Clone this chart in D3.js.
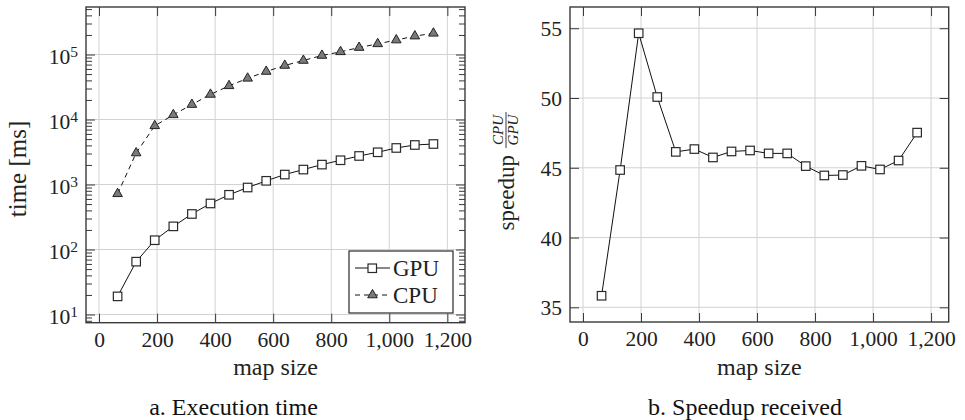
<!DOCTYPE html>
<html>
<head>
<meta charset="utf-8">
<script src="https://cdn.jsdelivr.net/npm/d3@7"></script>
<style>
  body { margin: 0; background: #fff; }
  svg { display: block; }
  svg text { font-family: "Liberation Serif", "Times New Roman", Tinos, "DejaVu Serif", serif; }
  .domain { display: none; }
</style>
</head>
<body>
<svg width="965" height="420"></svg>
<script>
// map sizes on the x axis
const mapSizes = [64, 128, 192, 256, 320, 384, 448, 512, 576, 640, 704, 768, 832, 896, 960, 1024, 1088, 1152];
// execution time in ms
const gpuTime = [19, 65, 139, 227, 352, 511, 695, 899, 1140, 1423, 1698, 2025, 2362, 2749, 3133, 3650, 4055, 4200];
const cpuTime = [720, 3050, 8000, 11800, 17000, 24300, 33000, 43000, 54800, 67800, 80900, 96600, 110000, 128000, 146000, 167000, 192000, 212000];
// speedup CPU / GPU
const speedup = [35.83, 44.84, 54.64, 50.07, 46.14, 46.34, 45.74, 46.17, 46.24, 46.03, 46.03, 45.12, 44.45, 44.48, 45.14, 44.88, 45.52, 47.52];

const xTicks = [0, 200, 400, 600, 800, 1000, 1200];
const logTicks = [10, 100, 1000, 10000, 100000];
const speedTicks = [35, 40, 45, 50, 55];
const captions = ['a. Execution time', 'b. Speedup received'];

const FRAME = '#3a3a3a';
const GRID = '#d2d2d2';
const TICK_FONT = 21.5;

const svg = d3.select('svg');

// pgfplots style enlarge limits (10% of data range on each side)
function enlarge(lo, hi) {
    const pad = (hi - lo) * 0.1;
    return [lo - pad, hi + pad];
}

function drawFrame(g, x, y, box, yTickValues, minorTicks, yFormat) {
    const w = box.right - box.left;
    const h = box.bottom - box.top;

    // grid
    g.append('g').selectAll('line.vg')
        .data(xTicks)
        .enter()
        .append('line')
        .attr('x1', d => x(d)).attr('x2', d => x(d))
        .attr('y1', box.top).attr('y2', box.bottom)
        .attr('stroke', GRID).attr('stroke-width', 1);
    g.append('g').selectAll('line.hg')
        .data(yTickValues)
        .enter()
        .append('line')
        .attr('x1', box.left).attr('x2', box.right)
        .attr('y1', d => y(d)).attr('y2', d => y(d))
        .attr('stroke', GRID).attr('stroke-width', 1);

    // bottom axis with labels
    const bottom = g.append('g')
        .attr('transform', `translate(0, ${box.bottom})`)
        .call(d3.axisBottom(x).tickValues(xTicks).tickSize(-9).tickPadding(9).tickFormat(d3.format(',')));
    g.append('g')
        .attr('transform', `translate(0, ${box.top})`)
        .call(d3.axisTop(x).tickValues(xTicks).tickSize(-9).tickFormat(''));

    const left = g.append('g')
        .attr('transform', `translate(${box.left}, 0)`)
        .call(d3.axisLeft(y).tickValues(yTickValues).tickSize(-9).tickPadding(8).tickFormat(yFormat));
    g.append('g')
        .attr('transform', `translate(${box.right}, 0)`)
        .call(d3.axisRight(y).tickValues(yTickValues).tickSize(-9).tickFormat(''));

    if (minorTicks) {
        g.append('g')
            .attr('transform', `translate(${box.left}, 0)`)
            .call(d3.axisLeft(y).tickValues(minorTicks).tickSize(-6).tickFormat(''));
        g.append('g')
            .attr('transform', `translate(${box.right}, 0)`)
            .call(d3.axisRight(y).tickValues(minorTicks).tickSize(-6).tickFormat(''));
    }

    g.selectAll('.tick line').attr('stroke', FRAME).attr('stroke-width', 1);
    g.selectAll('.tick text')
        .attr('fill', '#222')
        .attr('font-family', null)
        .attr('font-size', TICK_FONT);

    g.append('rect')
        .attr('x', box.left).attr('y', box.top)
        .attr('width', w).attr('height', h)
        .attr('fill', 'none')
        .attr('stroke', FRAME)
        .attr('stroke-width', 1.4);

    return { bottom, left };
}

function squares(g, data, x, y, size) {
    g.selectAll(null)
        .data(data)
        .enter()
        .append('rect')
        .attr('x', d => x(d[0]) - size / 2)
        .attr('y', d => y(d[1]) - size / 2)
        .attr('width', size).attr('height', size)
        .attr('fill', '#fff')
        .attr('stroke', '#2a2a2a')
        .attr('stroke-width', 1.2);
}

// ---------- left panel: execution time ----------
const boxA = { left: 86, right: 465, top: 7, bottom: 322.7 };
const xA = d3.scaleLinear()
    .domain(enlarge(d3.min(mapSizes), d3.max(mapSizes)))
    .range([boxA.left, boxA.right]);
const logExtent = enlarge(Math.log10(d3.min(gpuTime)), Math.log10(d3.max(cpuTime)));
const yA = d3.scaleLog()
    .domain([Math.pow(10, logExtent[0]), Math.pow(10, logExtent[1])])
    .range([boxA.bottom, boxA.top]);

const minorLog = [];
[1, 10, 100, 1000, 10000, 100000].forEach(p => {
    for (let m = 2; m <= 9; m++) {
        const v = m * p;
        if (v > yA.domain()[0] && v < yA.domain()[1]) minorLog.push(v);
    }
});

const gA = svg.append('g');
const axA = drawFrame(gA, xA, yA, boxA, logTicks, minorLog, () => '');
axA.left.selectAll('.tick text')
    .attr('dy', '0.42em')
    .each(function (d) {
        const t = d3.select(this);
        t.append('tspan').text('10');
        t.append('tspan')
            .attr('dy', '-0.48em')
            .attr('font-size', '0.72em')
            .text(Math.round(Math.log10(d)));
    });

const gpuPts = mapSizes.map((m, i) => [m, gpuTime[i]]);
const cpuPts = mapSizes.map((m, i) => [m, cpuTime[i]]);
const lineA = d3.line().x(d => xA(d[0])).y(d => yA(d[1]));

gA.append('path')
    .attr('d', lineA(cpuPts))
    .attr('fill', 'none')
    .attr('stroke', '#111')
    .attr('stroke-width', 1)
    .attr('stroke-dasharray', '5,4');
gA.append('path')
    .attr('d', lineA(gpuPts))
    .attr('fill', 'none')
    .attr('stroke', '#111')
    .attr('stroke-width', 1);

const tri = d3.symbol().type(d3.symbolTriangle).size(40);
gA.selectAll('.tri')
    .data(cpuPts)
    .enter()
    .append('path')
    .attr('d', tri)
    .attr('transform', d => `translate(${xA(d[0])}, ${yA(d[1])})`)
    .attr('fill', '#7a7a7a')
    .attr('stroke', '#222')
    .attr('stroke-width', 1);
squares(gA, gpuPts, xA, yA, 8.5);

// legend
const leg = gA.append('g');
leg.append('rect')
    .attr('x', 349).attr('y', 251)
    .attr('width', 104).attr('height', 62)
    .attr('fill', '#fff')
    .attr('stroke', FRAME)
    .attr('stroke-width', 1.3);
leg.append('line')
    .attr('x1', 355).attr('x2', 390).attr('y1', 268).attr('y2', 268)
    .attr('stroke', '#111');
leg.append('rect')
    .attr('x', 368).attr('y', 264).attr('width', 8.5).attr('height', 8.5)
    .attr('fill', '#fff').attr('stroke', '#2a2a2a').attr('stroke-width', 1.2);
leg.append('line')
    .attr('x1', 355).attr('x2', 390).attr('y1', 295).attr('y2', 295)
    .attr('stroke', '#111').attr('stroke-dasharray', '5,4');
leg.append('path')
    .attr('d', tri)
    .attr('transform', 'translate(372.5, 295)')
    .attr('fill', '#7a7a7a').attr('stroke', '#222');
leg.selectAll('.lt')
    .data(['GPU', 'CPU'])
    .enter()
    .append('text')
    .attr('x', 393)
    .attr('y', (d, i) => 268 + i * 27 + 8)
    .attr('font-size', 23)
    .attr('fill', '#222')
    .text(d => d);

// axis labels
gA.append('text')
    .attr('x', (boxA.left + boxA.right) / 2)
    .attr('y', 375)
    .attr('text-anchor', 'middle')
    .attr('font-size', 24)
    .attr('fill', '#222')
    .text('map size');
gA.append('text')
    .attr('transform', 'translate(26, 169) rotate(-90)')
    .attr('text-anchor', 'middle')
    .attr('font-size', 25)
    .attr('fill', '#222')
    .text('time [ms]');

// ---------- right panel: speedup ----------
const boxB = { left: 570, right: 948.7, top: 7, bottom: 322 };
const xB = d3.scaleLinear()
    .domain(enlarge(d3.min(mapSizes), d3.max(mapSizes)))
    .range([boxB.left, boxB.right]);
const yB = d3.scaleLinear()
    .domain(enlarge(d3.min(speedup), d3.max(speedup)))
    .range([boxB.bottom, boxB.top]);

const gB = svg.append('g');
const axB = drawFrame(gB, xB, yB, boxB, speedTicks, null, d3.format('d'));
axB.left.selectAll('.tick text').attr('dy', '0.35em');

const spPts = mapSizes.map((m, i) => [m, speedup[i]]);
gB.append('path')
    .attr('d', d3.line().x(d => xB(d[0])).y(d => yB(d[1]))(spPts))
    .attr('fill', 'none')
    .attr('stroke', '#111')
    .attr('stroke-width', 1);
squares(gB, spPts, xB, yB, 8.5);

gB.append('text')
    .attr('x', (boxB.left + boxB.right) / 2)
    .attr('y', 375)
    .attr('text-anchor', 'middle')
    .attr('font-size', 24)
    .attr('fill', '#222')
    .text('map size');

const yl = gB.append('g').attr('transform', 'translate(514, 158) rotate(-90)');
yl.append('text')
    .attr('x', 3).attr('y', 0)
    .attr('text-anchor', 'end')
    .attr('font-size', 23)
    .attr('fill', '#222')
    .text('speedup');
yl.append('line')
    .attr('x1', 10).attr('x2', 46).attr('y1', -8).attr('y2', -8)
    .attr('stroke', '#222').attr('stroke-width', 0.9);
yl.append('text')
    .attr('x', 28).attr('y', -11)
    .attr('text-anchor', 'middle')
    .attr('font-size', 15)
    .attr('font-style', 'italic')
    .attr('fill', '#222')
    .text('CPU');
yl.append('text')
    .attr('x', 28).attr('y', 4)
    .attr('text-anchor', 'middle')
    .attr('font-size', 15)
    .attr('font-style', 'italic')
    .attr('fill', '#222')
    .text('GPU');

// captions
svg.selectAll('.cap')
    .data(captions)
    .enter()
    .append('text')
    .attr('x', (d, i) => i === 0 ? 233.5 : 745)
    .attr('y', 415)
    .attr('text-anchor', 'middle')
    .attr('font-size', 24)
    .attr('fill', '#111')
    .text(d => d);
</script>
</body>
</html>
